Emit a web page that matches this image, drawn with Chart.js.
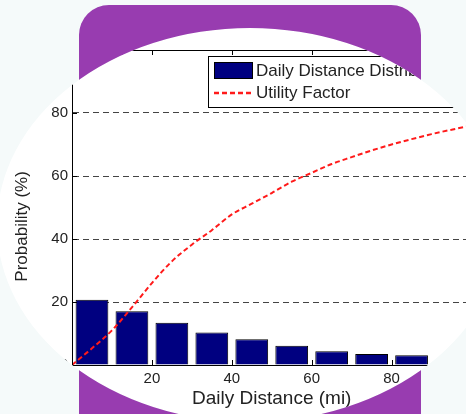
<!DOCTYPE html>
<html>
<head>
<meta charset="utf-8">
<script src="https://cdn.jsdelivr.net/npm/chart.js@4.4.0/dist/chart.umd.min.js"></script>
<style>
  html, body { margin: 0; padding: 0; background: #f5fafa; }
  #wrap { width: 466px; height: 414px; overflow: hidden; }
  canvas { display: block; }
</style>
</head>
<body>
<div id="wrap"><canvas id="mycanvas" width="489" height="414"></canvas></div>
<script>
// histogram bins (mi) and probability (%)
var binCenters = [5, 15, 25, 35, 45, 55, 65, 75, 85];
var distProb = [20.7, 17.1, 13.4, 10.3, 8.2, 6.1, 4.4, 3.5, 3.1];

// utility factor curve
var ufDistance = [0, 5, 10, 15, 20, 25, 30, 35, 40, 45, 50, 55, 60, 65, 70, 75, 80, 85, 90, 95, 100];
var ufValues = [0, 5.3, 11, 18.3, 26, 32.9, 38.2, 42.8, 47.8, 51.2, 54.6, 58.2, 61, 63.8, 66, 68.1, 70, 71.7, 73.3, 74.7, 76];

var xTicks = [0, 20, 40, 60, 80, 100];
var yTicks = [0, 20, 40, 60, 80, 100];

var fontFam = '"Liberation Sans", Arial, Helvetica, sans-serif';

// white plot background
var whiteBg = {
    id: 'whiteBg',
    beforeDraw: function(chart) {
        var c = chart.ctx;
        c.save();
        c.fillStyle = '#ffffff';
        c.fillRect(0, 0, chart.width, chart.height);
        c.restore();
    }
};

// matlab style box + inward ticks
var boxAxes = {
    id: 'boxAxes',
    afterDatasetsDraw: function(chart) {
        var c = chart.ctx, a = chart.chartArea;
        var xs = chart.scales.x, ys = chart.scales.y;
        c.save();
        c.strokeStyle = '#000';
        c.lineWidth = 1;
        c.beginPath();
        c.moveTo(a.left, a.top + 0.5);
        c.lineTo(a.right, a.top + 0.5);
        c.moveTo(a.right - 0.5, a.top);
        c.lineTo(a.right - 0.5, a.bottom);
        xTicks.forEach(function(v) {
            var px = Math.round(xs.getPixelForValue(v)) + 0.5;
            c.moveTo(px, a.bottom);
            c.lineTo(px, a.bottom - 5);
            c.moveTo(px, a.top);
            c.lineTo(px, a.top + 5);
        });
        yTicks.forEach(function(v) {
            var py = Math.round(ys.getPixelForValue(v)) + 0.5;
            c.moveTo(a.left, py);
            c.lineTo(a.left + 5, py);
        });
        c.stroke();
        c.restore();
    }
};

// legend box in the upper part of the axes
var boxLegend = {
    id: 'boxLegend',
    afterDatasetsDraw: function(chart) {
        var c = chart.ctx, a = chart.chartArea;
        var x0 = a.left + 136, y0 = a.top + 6;
        c.save();
        c.fillStyle = '#fff';
        c.fillRect(x0, y0, 262, 51);
        c.strokeStyle = '#000';
        c.lineWidth = 1;
        c.strokeRect(x0 + 0.5, y0 + 0.5, 262, 51);

        var bar = chart.data.datasets[1], line = chart.data.datasets[0];
        c.fillStyle = bar.backgroundColor;
        c.fillRect(x0 + 6, y0 + 6, 38, 16);
        c.strokeRect(x0 + 6.5, y0 + 6.5, 38, 16);

        c.strokeStyle = line.borderColor;
        c.lineWidth = 2.5;
        c.setLineDash([5, 3]);
        c.beginPath();
        c.moveTo(x0 + 6, y0 + 37);
        c.lineTo(x0 + 44, y0 + 37);
        c.stroke();
        c.setLineDash([]);

        c.fillStyle = '#222';
        c.font = '17px ' + fontFam;
        c.textBaseline = 'middle';
        c.fillText(bar.label, x0 + 48, y0 + 15);
        c.fillText(line.label, x0 + 48, y0 + 37);
        c.restore();
    }
};

// purple frame and ellipse cut-out on top of everything
var frameMask = {
    id: 'frameMask',
    afterDraw: function(chart) {
        var c = chart.ctx, w = chart.width, h = chart.height;
        c.save();
        c.beginPath();
        c.rect(0, 0, w, h);
        c.ellipse(250, 225, 253, 197, 0, 0, Math.PI * 2);
        c.fillStyle = '#f5fafa';
        c.fill('evenodd');
        c.clip('evenodd');
        var l = 79, t = 5, r = 421, b = h + 20, rad = 30;
        c.beginPath();
        c.moveTo(l, b);
        c.lineTo(l, t + rad);
        c.arcTo(l, t, l + rad, t, rad);
        c.lineTo(r - rad, t);
        c.arcTo(r, t, r, t + rad, rad);
        c.lineTo(r, b);
        c.closePath();
        c.fillStyle = '#983cb0';
        c.fill();
        c.restore();
    }
};

var ctx = document.getElementById('mycanvas');

var chart = new Chart(ctx, {
    data: {
        datasets: [
            {
                type: 'line',
                label: 'Utility Factor',
                data: ufDistance.map(function(d, i) { return {x: d, y: ufValues[i]}; }),
                borderColor: '#ff1a1a',
                borderWidth: 2,
                borderDash: [5, 3],
                pointRadius: 0,
                cubicInterpolationMode: 'monotone',
                order: 0
            },
            {
                type: 'bar',
                label: 'Daily Distance Distribution',
                data: binCenters.map(function(d, i) { return {x: d, y: distProb[i]}; }),
                backgroundColor: '#000080',
                borderColor: '#000000',
                borderWidth: 1,
                barPercentage: 0.82,
                categoryPercentage: 1,
                order: 1
            }
        ]
    },
    options: {
        responsive: false,
        animation: false,
        layout: { padding: { top: 50, right: 0, left: 0, bottom: 0 } },
        plugins: {
            legend: { display: false },
            tooltip: { enabled: false }
        },
        scales: {
            x: {
                type: 'linear',
                min: 0,
                max: 100,
                offset: false,
                afterBuildTicks: function(s) { s.ticks = xTicks.map(function(v) { return {value: v}; }); },
                afterFit: function(s) { s.height = 49; },
                grid: { display: false, drawTicks: false, offset: false },
                border: { display: true, color: '#000', width: 1 },
                ticks: { padding: 5, color: '#222', maxRotation: 0, font: { family: fontFam, size: 15 } },
                title: {
                    display: true,
                    text: 'Daily Distance (mi)',
                    color: '#222',
                    font: { family: fontFam, size: 19 },
                    padding: { top: 0, bottom: 4 }
                }
            },
            y: {
                min: 0,
                max: 100,
                afterBuildTicks: function(s) { s.ticks = yTicks.map(function(v) { return {value: v}; }); },
                afterFit: function(s) { s.width = 72; },
                grid: {
                    drawTicks: false,
                    color: function(c) {
                        var v = c.tick && c.tick.value;
                        return (v === 0 || v === 100) ? 'rgba(0,0,0,0)' : '#444';
                    },
                    lineWidth: 1
                },
                border: { display: true, color: '#000', width: 1, dash: [6, 4] },
                ticks: { padding: 4, color: '#222', font: { family: fontFam, size: 15 } },
                title: {
                    display: true,
                    text: 'Probability (%)        ',
                    color: '#222',
                    font: { family: fontFam, size: 17 },
                    padding: { top: 12, bottom: 0 }
                }
            }
        }
    },
    plugins: [whiteBg, boxAxes, boxLegend, frameMask]
});
</script>
</body>
</html>
